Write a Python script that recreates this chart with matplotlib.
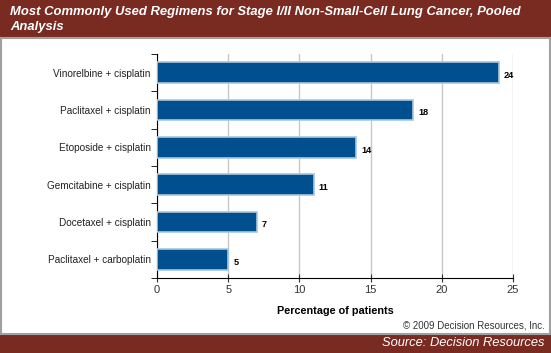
import numpy as np
import matplotlib.pyplot as plt
from matplotlib.patches import Rectangle

plt.rcParams['font.family'] = ['Liberation Sans', 'DejaVu Sans']

regimens = ["Vinorelbine + cisplatin", "Paclitaxel + cisplatin", "Etoposide + cisplatin",
            "Gemcitabine + cisplatin", "Docetaxel + cisplatin", "Paclitaxel + carboplatin"]
percent = [24, 18, 14, 11, 7, 5]
xticks = [0, 5, 10, 15, 20, 25]

red = "#7a2b21"
blue = "#00508f"

fig = plt.figure(figsize=(5.51, 3.53), dpi=100)
W, H = 551, 353

# header / footer bands
fig.patches.append(Rectangle((0, 1 - 38 / H), 1, 38 / H, transform=fig.transFigure,
                             facecolor=red, edgecolor='none'))
fig.patches.append(Rectangle((0, 0), 1, 19 / H, transform=fig.transFigure,
                             facecolor=red, edgecolor='none'))
fig.patches.append(Rectangle((0.5 / W, 19 / H), 1 - 1.5 / W, 1 - 57 / H, transform=fig.transFigure,
                             facecolor='none', edgecolor='#a0a0a0', lw=1.5))

fig.text(10 / W, 1 - 6 / H, "Most Commonly Used Regimens for Stage I/II Non-Small-Cell Lung Cancer, Pooled\nAnalysis",
         color='white', fontsize=9.4, fontweight='bold', fontstyle='italic', va='top', ha='left',
         linespacing=1.3)
fig.text(1 - 6 / W, 27 / H, "\u00a9 2009 Decision Resources, Inc.", fontsize=7, color='#333333',
         ha='right', va='center')
fig.text(1 - 6 / W, 9.5 / H, "Source: Decision Resources", fontsize=9.3, color='white',
         fontstyle='italic', ha='right', va='center')

ax = fig.add_axes([157 / W, 1 - 278 / H, 356 / W, 224 / H])
y = np.arange(len(regimens))[::-1]
ax.barh(y, percent, height=0.55, color=blue, edgecolor='#a9c6e0', linewidth=1.2, zorder=3)
for yi, v in zip(y, percent):
    ax.text(v + 0.35, yi - 0.08, str(v), fontsize=6.6, fontweight='bold', va='center', ha='left')

ax.set_xlim(0, 25)
ax.set_ylim(-0.5, 5.5)
ax.set_xticks(xticks)
ax.tick_params(axis='x', direction='inout', length=6, labelsize=8, colors='#333333', pad=2)
ax.set_yticks(y)
ax.set_yticklabels(regimens, fontsize=7.2, color='#222222')
ax.tick_params(axis='y', length=0, pad=4.5)
ax.set_yticks(np.arange(-0.5, 5.6, 1), minor=True)
ax.tick_params(axis='y', which='minor', direction='out', length=4)
ax.grid(axis='x', color='#c8c8c8', lw=1, zorder=0)
for s in ['top', 'right']:
    ax.spines[s].set_visible(False)
ax.set_xlabel("Percentage of patients", fontsize=7.8, fontweight='bold', labelpad=8)

fig.savefig("out.png", dpi=100)
